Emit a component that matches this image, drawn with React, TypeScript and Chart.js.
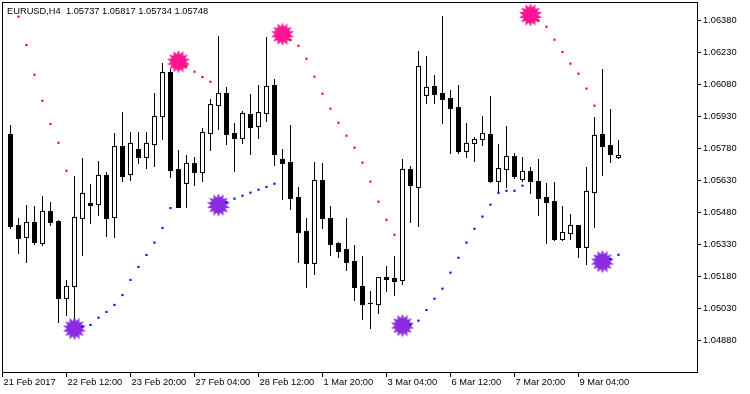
import React, { useEffect, useRef } from "react";
import { Chart, registerables } from "chart.js";

Chart.register(...registerables);

const symbol = "EURUSD,H4";

const opens = [
  1.05846, 1.05419, 1.05363, 1.05433, 1.05338, 1.05485, 1.05439, 1.0508, 1.05136, 1.05455,
  1.05524, 1.05518, 1.05655, 1.0546, 1.0579, 1.05661, 1.05775, 1.05741, 1.05802, 1.0593,
  1.06136, 1.05682, 1.05619, 1.0571, 1.0567, 1.05853, 1.05985, 1.06038, 1.05852, 1.0583,
  1.0594, 1.05886, 1.05947, 1.06077, 1.0573, 1.05716, 1.05552, 1.05392, 1.05244, 1.05632,
  1.05453, 1.05336, 1.05308, 1.05252, 1.05135, 1.05055, 1.05052, 1.05177, 1.05172, 1.05161,
  1.05682, 1.056, 1.06031, 1.06071, 1.06038, 1.06015, 1.05974, 1.05769, 1.05804, 1.05822,
  1.05846, 1.05628, 1.05685, 1.05744, 1.05635, 1.05672, 1.05627, 1.0555, 1.05533, 1.05355,
  1.05385, 1.05419, 1.05319, 1.05577, 1.05846, 1.05796, 1.05737,
];
const highs = [
  1.05888, 1.05452, 1.05513, 1.05508, 1.05557, 1.05528, 1.05444, 1.05163, 1.0565, 1.05735,
  1.05613, 1.05721, 1.05668, 1.0585, 1.0595, 1.05857, 1.05857, 1.05857, 1.06039, 1.0618,
  1.0615, 1.05772, 1.05749, 1.05739, 1.05875, 1.06011, 1.06307, 1.06067, 1.05898, 1.05955,
  1.06035, 1.06077, 1.06301, 1.06105, 1.05775, 1.05889, 1.05599, 1.05452, 1.05716, 1.05711,
  1.0551, 1.0534, 1.05453, 1.05327, 1.05275, 1.05111, 1.05177, 1.05228, 1.05275, 1.0573,
  1.05697, 1.06236, 1.06213, 1.06124, 1.064, 1.06053, 1.06077, 1.05899, 1.05833, 1.05932,
  1.06025, 1.058, 1.05885, 1.05757, 1.05739, 1.05691, 1.0573, 1.05617, 1.05622, 1.0551,
  1.05472, 1.0542, 1.05692, 1.05927, 1.06152, 1.05964, 1.05817,
];
const lows = [
  1.05408, 1.05291, 1.05249, 1.05333, 1.05327, 1.05421, 1.04966, 1.04999, 1.04957, 1.05281,
  1.05431, 1.05467, 1.05369, 1.05366, 1.05628, 1.05632, 1.05713, 1.05688, 1.05697, 1.05824,
  1.05647, 1.05504, 1.05504, 1.0561, 1.05628, 1.05772, 1.05872, 1.05802, 1.05674, 1.05806,
  1.05753, 1.0583, 1.0591, 1.05703, 1.05544, 1.05497, 1.05249, 1.05131, 1.05192, 1.05408,
  1.05281, 1.05272, 1.05211, 1.05071, 1.04981, 1.04939, 1.0501, 1.05113, 1.05094, 1.05145,
  1.05435, 1.05416, 1.05993, 1.05993, 1.059, 1.0576, 1.0576, 1.05741, 1.05722, 1.05797,
  1.05622, 1.05572, 1.056, 1.05642, 1.05628, 1.05572, 1.05469, 1.05336, 1.0535, 1.0535,
  1.05356, 1.05271, 1.05238, 1.05413, 1.05656, 1.05717, 1.05734,
];
const closes = [
  1.05417, 1.05361, 1.05433, 1.05342, 1.05485, 1.05436, 1.0508, 1.05133, 1.05457, 1.05569,
  1.05516, 1.05654, 1.05455, 1.0579, 1.05652, 1.05804, 1.05741, 1.05804, 1.0593, 1.06136,
  1.05678, 1.05506, 1.0571, 1.0567, 1.05855, 1.05986, 1.06038, 1.05847, 1.0583, 1.05944,
  1.05881, 1.05949, 1.06071, 1.05753, 1.05713, 1.05549, 1.05389, 1.05244, 1.0563, 1.05455,
  1.05333, 1.053, 1.05249, 1.05131, 1.05052, 1.05054, 1.05175, 1.05169, 1.0516, 1.05682,
  1.0561, 1.06165, 1.06066, 1.06036, 1.06013, 1.0597, 1.05769, 1.05804, 1.05822, 1.0585,
  1.05628, 1.05686, 1.05744, 1.05652, 1.05672, 1.05628, 1.05549, 1.0553, 1.05355, 1.05386,
  1.05419, 1.05319, 1.05579, 1.05841, 1.05792, 1.05755, 1.05748,
];

const sarAbove = [
  null, 1.06397, 1.06264, 1.06125, 1.06003, 1.05894, 1.05806, 1.05675,
  null, null, null, null, null, null, null, null, null, null, null, null, null, null,
  1.06166, 1.06139, 1.06114, 1.06092,
  null, null, null, null, null, null, null, null, null,
  1.06288, 1.06261, 1.062, 1.06116, 1.06036, 1.05966, 1.059, 1.05839, 1.05783, 1.05713,
  1.05624, 1.0553, 1.05445, 1.05375,
  null, null, null, null, null, null, null, null, null, null, null, null, null, null, null, null, null,
  1.0638, 1.0635, 1.06289, 1.06232, 1.06177, 1.0613, 1.0606, 1.0598,
  null, null, null,
];
const sarBelow = [
  null, null, null, null, null, null, null, null, null,
  1.04945, 1.04952, 1.04986, 1.05013, 1.05046, 1.05092, 1.05163, 1.05224, 1.0528, 1.05338,
  1.05407, 1.055,
  null, null, null, null, null, null,
  1.05528, 1.05544, 1.05558, 1.05572, 1.05586, 1.05599, 1.05614,
  null, null, null, null, null, null, null, null, null, null, null, null, null, null, null, null,
  1.04952, 1.04972, 1.05022, 1.05075, 1.05122, 1.05197, 1.05267, 1.05338, 1.05403, 1.0546,
  1.05516, 1.05572, 1.05581, 1.05581, 1.05605,
  null, null, null, null, null, null, null, null, null, null,
  1.05261, 1.05281,
];

const buyStarBars = [8, 26, 49, 74];
const buyStarPrices = [1.04935, 1.05514, 1.04949, 1.05249];
const sellStarBars = [21, 34, 65];
const sellStarPrices = [1.06186, 1.06315, 1.06405];

const xTickBars = [-1, 7, 15, 23, 31, 39, 47, 55, 63, 71];
const xTickLabels = [
  "21 Feb 2017", "22 Feb 12:00", "23 Feb 20:00", "27 Feb 04:00", "28 Feb 12:00",
  "1 Mar 20:00", "3 Mar 04:00", "6 Mar 12:00", "7 Mar 20:00", "9 Mar 04:00",
];
const yTickValues = [
  1.0488, 1.0503, 1.0518, 1.0533, 1.0548, 1.0563, 1.0578, 1.0593, 1.0608, 1.0623, 1.0638,
];

const FONT_FAMILY = '"Liberation Sans", Arial, sans-serif';
const FONT_SIZE = 9.3;

function makeBurst(color: string): HTMLCanvasElement {
  const c = document.createElement("canvas");
  c.width = 24;
  c.height = 24;
  const g = c.getContext("2d")!;
  const n = 14;
  const outer = 11.8;
  const inner = 7.6;
  g.beginPath();
  for (let k = 0; k < n * 2; k++) {
    const r = k % 2 === 0 ? outer : inner;
    const a = (Math.PI * k) / n - Math.PI / 2;
    const px = 12 + r * Math.cos(a);
    const py = 12 + r * Math.sin(a);
    if (k === 0) g.moveTo(px, py);
    else g.lineTo(px, py);
  }
  g.closePath();
  g.fillStyle = color;
  g.fill();
  return c;
}

const candlePlugin = {
  id: "candles",
  beforeDatasetsDraw(chart: any) {
    const ctx = chart.ctx as CanvasRenderingContext2D;
    const xs = chart.scales.x;
    const ys = chart.scales.y;
    ctx.save();
    for (let i = 0; i < opens.length; i++) {
      const cx = Math.floor(xs.getPixelForValue(i));
      const yH = Math.round(ys.getPixelForValue(highs[i]));
      const yL = Math.round(ys.getPixelForValue(lows[i]));
      const yO = Math.round(ys.getPixelForValue(opens[i]));
      const yC = Math.round(ys.getPixelForValue(closes[i]));
      ctx.fillStyle = "#000";
      ctx.fillRect(cx, yH, 1, yL - yH + 1);
      const top = Math.min(yO, yC);
      const bot = Math.max(yO, yC);
      if (closes[i] >= opens[i]) {
        ctx.fillStyle = "#fff";
        ctx.fillRect(cx - 2, top, 5, bot - top + 1);
        ctx.strokeStyle = "#000";
        ctx.lineWidth = 1;
        ctx.strokeRect(cx - 2 + 0.5, top + 0.5, 4, Math.max(bot - top, 1));
      } else {
        ctx.fillStyle = "#000";
        ctx.fillRect(cx - 2, top, 5, Math.max(bot - top + 1, 1));
      }
    }
    ctx.restore();
  },
  afterDraw(chart: any) {
    const ctx = chart.ctx as CanvasRenderingContext2D;
    const a = chart.chartArea;
    ctx.save();
    ctx.strokeStyle = "#000";
    ctx.lineWidth = 1;
    ctx.strokeRect(a.left + 0.5, a.top + 0.5, a.right - a.left, a.bottom - a.top - 1);
    ctx.fillStyle = "#000";
    ctx.font = `${FONT_SIZE}px ${FONT_FAMILY}`;
    ctx.textBaseline = "alphabetic";
    ctx.textAlign = "left";
    const last = opens.length - 1;
    const title = `${symbol}  ${opens[last].toFixed(5)} ${highs[last].toFixed(5)} ${lows[last].toFixed(5)} ${closes[last].toFixed(5)}`;
    ctx.fillText(title, 7, 13.5);
    ctx.restore();
  },
};

function toPoints(arr: (number | null)[]) {
  const out: { x: number; y: number }[] = [];
  arr.forEach((v, i) => {
    if (v !== null) out.push({ x: i, y: v });
  });
  return out;
}

function zeroPadding(s: any) {
  s.paddingLeft = 0;
  s.paddingRight = 0;
  s.paddingTop = 0;
  s.paddingBottom = 0;
}

export default function App() {
  const ref = useRef<HTMLCanvasElement | null>(null);

  useEffect(() => {
    document.body.style.margin = "0";
    const canvas = ref.current!;
    const buyImg = makeBurst("#8a2be2");
    const sellImg = makeBurst("#ff1493");
    const font = { family: FONT_FAMILY, size: FONT_SIZE };
    const chart = new Chart(canvas, {
      type: "scatter",
      data: {
        datasets: [
          {
            label: "SAR above",
            data: toPoints(sarAbove),
            pointStyle: "rect",
            pointRadius: 1.5,
            pointBorderWidth: 0,
            backgroundColor: "#ff0000",
            borderColor: "#ff0000",
            showLine: false,
          },
          {
            label: "SAR below",
            data: toPoints(sarBelow),
            pointStyle: "rect",
            pointRadius: 1.5,
            pointBorderWidth: 0,
            backgroundColor: "#0000ff",
            borderColor: "#0000ff",
            showLine: false,
          },
          {
            label: "Buy",
            data: buyStarBars.map((b, k) => ({ x: b, y: buyStarPrices[k] })),
            pointStyle: buyImg as any,
            pointRadius: 11,
            showLine: false,
          },
          {
            label: "Sell",
            data: sellStarBars.map((b, k) => ({ x: b, y: sellStarPrices[k] })),
            pointStyle: sellImg as any,
            pointRadius: 11,
            showLine: false,
          },
        ],
      },
      options: {
        animation: false,
        responsive: false,
        events: [],
        layout: { autoPadding: false, padding: { left: 2, top: 2, right: 0, bottom: 0 } },
        plugins: {
          legend: { display: false },
          tooltip: { enabled: false },
        },
        scales: {
          x: {
            type: "linear",
            position: "bottom",
            min: -1.0625,
            max: 85.8125,
            afterFit: (s: any) => {
              s.height = 21;
              zeroPadding(s);
            },
            afterBuildTicks: (s: any) => {
              s.ticks = xTickBars.map((v) => ({ value: v }));
            },
            ticks: {
              autoSkip: false,
              maxRotation: 0,
              minRotation: 0,
              align: "start",
              padding: 0,
              labelOffset: 1,
              color: "#000",
              font,
              callback: (_v: any, i: number) => xTickLabels[i],
            },
            grid: { drawOnChartArea: false, drawTicks: true, tickLength: 4, color: "#000" },
            border: { display: false },
          },
          y: {
            type: "linear",
            position: "right",
            min: 1.047268,
            max: 1.064659,
            afterFit: (s: any) => {
              s.width = 53;
              zeroPadding(s);
            },
            afterBuildTicks: (s: any) => {
              s.ticks = yTickValues.map((v) => ({ value: v }));
            },
            ticks: {
              autoSkip: false,
              padding: 2,
              color: "#000",
              font,
              callback: (v: any) => Number(v).toFixed(5),
            },
            grid: { drawOnChartArea: false, drawTicks: true, tickLength: 4, color: "#000" },
            border: { display: false },
          },
        },
      } as any,
      plugins: [candlePlugin],
    });
    return () => chart.destroy();
  }, []);

  return <canvas ref={ref} width={750} height={394} style={{ display: "block", width: 750, height: 394 }} />;
}
